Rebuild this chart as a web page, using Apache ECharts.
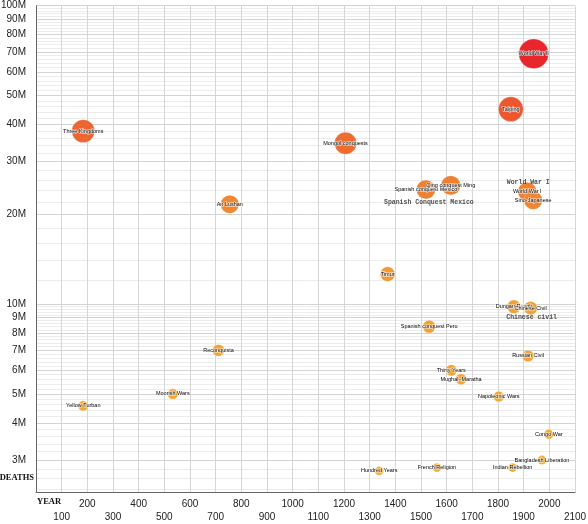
<!DOCTYPE html>
<html><head><meta charset="utf-8">
<script src="https://cdn.jsdelivr.net/npm/echarts@6/dist/echarts.min.js"></script>
<style>html,body{margin:0;padding:0;background:#fff}#c{width:588px;height:524px}</style>
</head><body><div id="c"></div>
<script>
// ---- data ----
const wars = ['World War II','Taiping','Three Kingdoms','Mongol conquests','An Lushan',
  'Spanish conquest Mexico','Qing conquest Ming','World War I','Sino-Japanese','Timur',
  'Spanish conquest Peru','Dungan Revolt','Chinese Civil','Reconquista','Russian Civil',
  'Thirty Years','Mughal–Maratha','Napoleonic Wars','Moorish Wars','Yellow Turban',
  'Congo War','Bangladesh Liberation','Indian Rebellion','French Religion','Hundred Years'];
const years = [1939,1850,184,1206,755,
  1519,1616,1914,1937,1370,
  1532,1862,1927,711,1917,
  1618,1656,1803,533,184,
  1998,1971,1857,1562,1337];
const deathsM = [69,45,38,34.6,21.6,
  24.2,25,23.8,22.3,12.6,
  8.4,9.8,9.7,7.0,6.7,
  6.0,5.6,4.9,5.0,4.56,
  3.66,3.0,2.83,2.83,2.76];
const noteTexts = ['World War I','Spanish Conquest Mexico','Chinese civil'];
const noteFor = ['World War I','Spanish conquest Mexico','Chinese Civil'];
const yMajorM = [3,4,5,6,7,8,9,10,20,30,40,50,60,70,80,90,100];
const yMinM = 2.34, yMaxM = 100;
const xMin = 0, xMax = 2100, xStep = 100;

// ---- build ----
const L = v => Math.log10(v);
const yMinor = [];
const majorsFull = [2].concat(yMajorM);
for (let i = 0; i < majorsFull.length - 1; i++) {
  const a = majorsFull[i], b = majorsFull[i + 1];
  for (let k = 1; k < 5; k++) {
    const v = a + (b - a) * k / 5;
    if (v > yMinM) yMinor.push(L(v));
  }
}
const points = wars.map((n, i) => ({ name: n, value: [years[i], L(deathsM[i]), deathsM[i]] }));
const noteOffsets = { 'World War I': [1, -9], 'Spanish conquest Mexico': [3, 12.5], 'Chinese Civil': [1, 9.5] };
const notePoints = noteTexts.map((t, j) => {
  const i = wars.indexOf(noteFor[j]);
  return { name: t, value: [years[i], L(deathsM[i]), deathsM[i]],
    label: { offset: noteOffsets[noteFor[j]] } };
});

const chart = echarts.init(document.getElementById('c'), null, { renderer: 'canvas' });
chart.setOption({
  animation: false,
  backgroundColor: '#fff',
  grid: { left: 36, right: 13, top: 5.7, bottom: 31.7, containLabel: false, outerBoundsMode: 'none' },
  xAxis: {
    type: 'value', min: xMin, max: xMax, interval: xStep,
    name: 'YEAR', nameLocation: 'start', nameGap: -1, nameMoveOverlap: false,
    nameTextStyle: { fontFamily: 'Liberation Serif', fontWeight: 'bold', fontSize: 8.5, color: '#111',
      align: 'left', verticalAlign: 'top', padding: [5, 0, 0, 0] },
    axisLine: { show: true, lineStyle: { color: '#666', width: 1 } },
    axisTick: { show: false },
    axisLabel: {
      margin: 5, fontSize: 10, lineHeight: 13, color: '#222', fontFamily: 'Liberation Sans',
      formatter: v => v === 0 ? '' : ((v / 100) % 2 === 1 ? '\n' + v : String(v))
    },
    splitLine: { show: true, lineStyle: { color: '#d6d6d6', width: 1 } }
  },
  yAxis: [{
    type: 'value', min: L(yMinM), max: L(yMaxM),
    name: 'DEATHS', nameLocation: 'start', nameGap: -15, nameMoveOverlap: false,
    nameTextStyle: { fontFamily: 'Liberation Serif', fontWeight: 'bold', fontSize: 8.5, color: '#111',
      align: 'right', verticalAlign: 'middle', padding: [0, 2, 0, 0] },
    axisLine: { show: true, lineStyle: { color: '#666', width: 1 } },
    axisTick: { show: false, customValues: yMajorM.map(L) },
    axisLabel: {
      customValues: yMajorM.map(L), margin: 10, fontSize: 10, color: '#222', fontFamily: 'Liberation Sans',
      formatter: v => Math.round(Math.pow(10, v)) + 'M'
    },
    splitLine: { show: true, lineStyle: { color: '#d3d3d3', width: 1 } }
  }, {
    type: 'value', min: L(yMinM), max: L(yMaxM), position: 'left',
    axisLine: { show: false }, axisLabel: { show: false },
    axisTick: { show: false, customValues: yMinor },
    splitLine: { show: true, lineStyle: { color: '#ececec', width: 1 } }
  }],
  visualMap: {
    show: false, type: 'continuous', dimension: 2, min: 2.7, max: 70, seriesIndex: 0,
    inRange: { color: ['#f3ad35', '#e8242b'] }
  },
  series: [{
    type: 'scatter', yAxisIndex: 0, data: points,
    symbolSize: v => 3.5 + 3.15 * Math.sqrt(v[2]),
    itemStyle: { opacity: 1, borderColor: 'rgba(255,255,255,0.35)', borderWidth: 0.6 },
    label: {
      show: true, position: 'inside', formatter: p => p.name,
      fontSize: 5.5, color: '#000', fontFamily: 'Liberation Sans',
      textBorderColor: 'rgba(255,255,255,0.85)', textBorderWidth: 1.2
    },
    z: 3
  }, {
    type: 'scatter', yAxisIndex: 0, data: notePoints, symbolSize: 0,
    itemStyle: { color: 'transparent' },
    label: {
      show: true, position: 'inside', formatter: p => p.name,
      fontSize: 6.5, color: '#222', fontFamily: 'Liberation Mono', fontWeight: 'bold'
    },
    z: 4
  }]
});
</script></body></html>
